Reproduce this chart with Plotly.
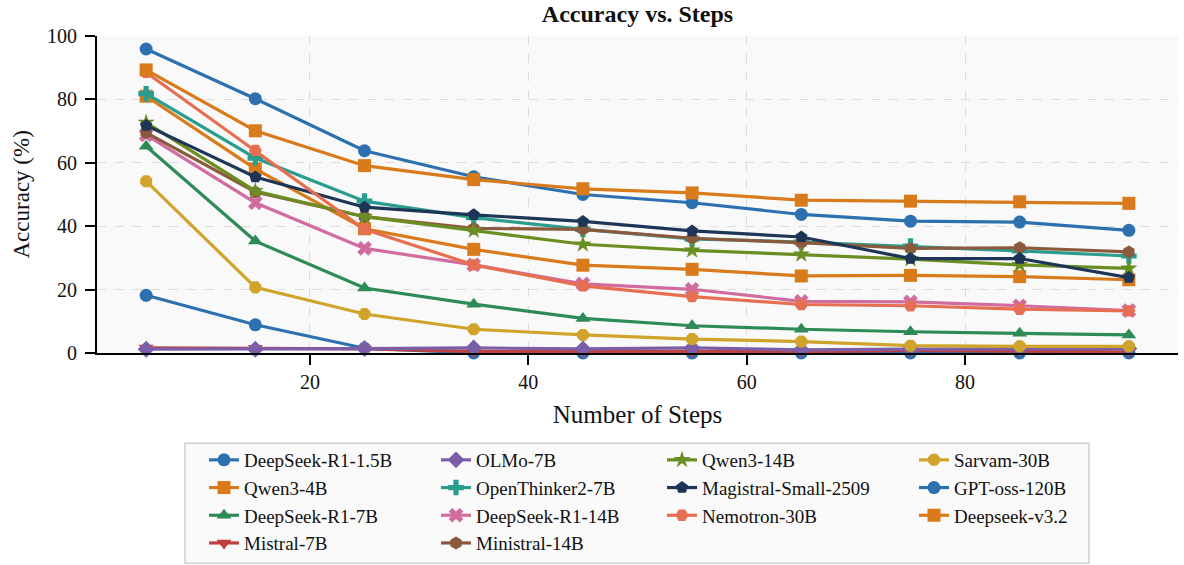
import plotly.graph_objects as go

steps = [5, 15, 25, 35, 45, 55, 65, 75, 85, 95]

models = ["DeepSeek-R1-1.5B", "Qwen3-4B", "DeepSeek-R1-7B", "Mistral-7B",
          "OLMo-7B", "OpenThinker2-7B", "DeepSeek-R1-14B", "Ministral-14B",
          "Qwen3-14B", "Magistral-Small-2509", "Nemotron-30B", "Sarvam-30B",
          "GPT-oss-120B", "Deepseek-v3.2"]

deepseek_r1_1_5b = [18.2, 8.9, 1.5, 0.0, 0.0, 0.0, 0.0, 0.0, 0.0, 0.0]
qwen3_4b = [81.0, 58.1, 39.2, 32.7, 27.7, 26.4, 24.3, 24.5, 24.1, 23.1]
deepseek_r1_7b = [65.2, 35.3, 20.5, 15.4, 10.9, 8.6, 7.5, 6.7, 6.2, 5.7]
mistral_7b = [1.6, 1.5, 1.3, 0.5, 0.4, 0.4, 0.4, 0.8, 0.6, 0.4]
olmo_7b = [1.2, 1.2, 1.4, 1.6, 1.3, 1.6, 1.0, 1.2, 1.3, 1.4]
openthinker2_7b = [81.8, 61.5, 47.9, 42.7, 39.0, 36.0, 35.0, 33.7, 32.2, 30.6]
deepseek_r1_14b = [68.8, 47.4, 33.0, 27.8, 21.8, 20.1, 16.3, 16.1, 14.9, 13.4]
ministral_14b = [69.5, 50.8, 43.0, 39.3, 39.0, 36.2, 34.8, 33.0, 33.2, 31.9]
qwen3_14b = [72.7, 51.1, 43.0, 38.7, 34.3, 32.4, 31.1, 29.6, 27.8, 26.7]
magistral_small = [71.8, 55.5, 46.0, 43.6, 41.5, 38.5, 36.6, 29.8, 29.8, 23.8]
nemotron_30b = [88.5, 63.9, 39.0, 27.8, 21.2, 17.8, 15.3, 14.9, 13.8, 13.3]
sarvam_30b = [54.2, 20.7, 12.3, 7.5, 5.7, 4.4, 3.6, 2.3, 2.1, 2.1]
gpt_oss_120b = [95.9, 80.2, 63.8, 55.6, 50.0, 47.4, 43.7, 41.6, 41.3, 38.7]
deepseek_v3_2 = [89.3, 70.1, 59.1, 54.7, 51.8, 50.5, 48.2, 47.9, 47.7, 47.2]

series = [deepseek_r1_1_5b, qwen3_4b, deepseek_r1_7b, mistral_7b, olmo_7b,
          openthinker2_7b, deepseek_r1_14b, ministral_14b, qwen3_14b,
          magistral_small, nemotron_30b, sarvam_30b, gpt_oss_120b, deepseek_v3_2]

colors = ["#2d70b0", "#d97a1b", "#2e8b57", "#c0403f", "#7b5ea7", "#2a9d8f",
          "#d06ca0", "#8b5a3c", "#6b8e23", "#1d3557", "#e76f51", "#d0a42a",
          "#2d70b0", "#d97a1b"]
symbols = ["circle", "square", "triangle-up", "triangle-down", "diamond", "cross",
           "x", "hexagon", "star", "pentagon", "hexagon2", "octagon",
           "circle", "square"]
legend_ids = ["legend", "legend", "legend", "legend",
              "legend2", "legend2", "legend2", "legend2",
              "legend3", "legend3", "legend3",
              "legend4", "legend4", "legend4"]

FONT = "Liberation Serif, Times New Roman, serif"
W, H = 1184, 565
L, R, T, B = 97, 1178, 36, 353.5

fig = go.Figure()
for name, ys, c, s, lg in zip(models, series, colors, symbols, legend_ids):
    fig.add_trace(go.Scatter(
        x=steps, y=ys, name=name, mode="lines+markers",
        line=dict(color=c, width=3.2),
        marker=dict(symbol=s, size=13, color=c, line=dict(width=0)),
        legend=lg, cliponaxis=False,
    ))

def px2paper_x(px):
    return (px - L) / (R - L)

def px2paper_y(py):
    return (B - py) / (B - T)

legend_common = dict(
    xref="container", yref="container", xanchor="left", yanchor="top",
    orientation="v", bgcolor="rgba(0,0,0,0)", borderwidth=0,
    font=dict(family=FONT, size=19, color="#111111"),
    itemclick=False, itemdoubleclick=False,
)
text_starts = [244, 476, 702, 954]
legend_top = 441

layout_legends = {}
for i, key in enumerate(["legend", "legend2", "legend3", "legend4"]):
    layout_legends[key] = dict(legend_common, x=(text_starts[i] - 40) / W,
                               y=1 - legend_top / H)

fig.update_layout(
    width=W, height=H,
    margin=dict(l=L, r=W - R, t=T, b=H - B, autoexpand=False),
    paper_bgcolor="white",
    plot_bgcolor="#f9f9f9",
    font=dict(family=FONT, size=20, color="#111111"),
    title=dict(text="<b>Accuracy vs. Steps</b>", x=0.5, xref="paper",
               y=1 - 14 / H, yref="container", xanchor="center", yanchor="middle",
               font=dict(family=FONT, size=24, color="#111111")),
    xaxis=dict(
        range=[0.5, 99.5], tickvals=[20, 40, 60, 80],
        showgrid=True, gridcolor="#dcdcdc", griddash="dash", gridwidth=1,
        showline=True, linecolor="black", linewidth=2, mirror=False,
        ticks="outside", ticklen=10, tickwidth=2, tickcolor="black",
        tickfont=dict(family=FONT, size=20),
        zeroline=False, automargin=True,
        title=dict(text="Number of Steps", standoff=13,
                   font=dict(family=FONT, size=25)),
    ),
    yaxis=dict(
        range=[0, 100], tickvals=[0, 20, 40, 60, 80, 100],
        showgrid=True, gridcolor="#dcdcdc", griddash="dash", gridwidth=1,
        showline=True, linecolor="black", linewidth=2, mirror=False,
        ticks="outside", ticklen=10, tickwidth=2, tickcolor="black",
        ticklabelstandoff=4,
        tickfont=dict(family=FONT, size=20),
        zeroline=False,
    ),
    showlegend=True,
    **layout_legends,
)

# y-axis title as rotated text, placed left of the tick labels
fig.add_annotation(
    text="Accuracy (%)", textangle=-90, showarrow=False,
    xref="paper", yref="paper", x=px2paper_x(21), y=0.5,
    xanchor="center", yanchor="middle",
    font=dict(family=FONT, size=23, color="#111111"),
)

fig.add_shape(type="rect", xref="paper", yref="paper",
              x0=px2paper_x(185), x1=px2paper_x(1089),
              y0=px2paper_y(444), y1=px2paper_y(564),
              line=dict(color="#d0d0d0", width=1.5),
              fillcolor="rgba(250,250,250,0.9)", layer="below")

fig.write_html(
    "out.html",
    config={"displayModeBar": False},
    post_script="document.body.style.margin='0';document.body.style.overflow='hidden';",
)
